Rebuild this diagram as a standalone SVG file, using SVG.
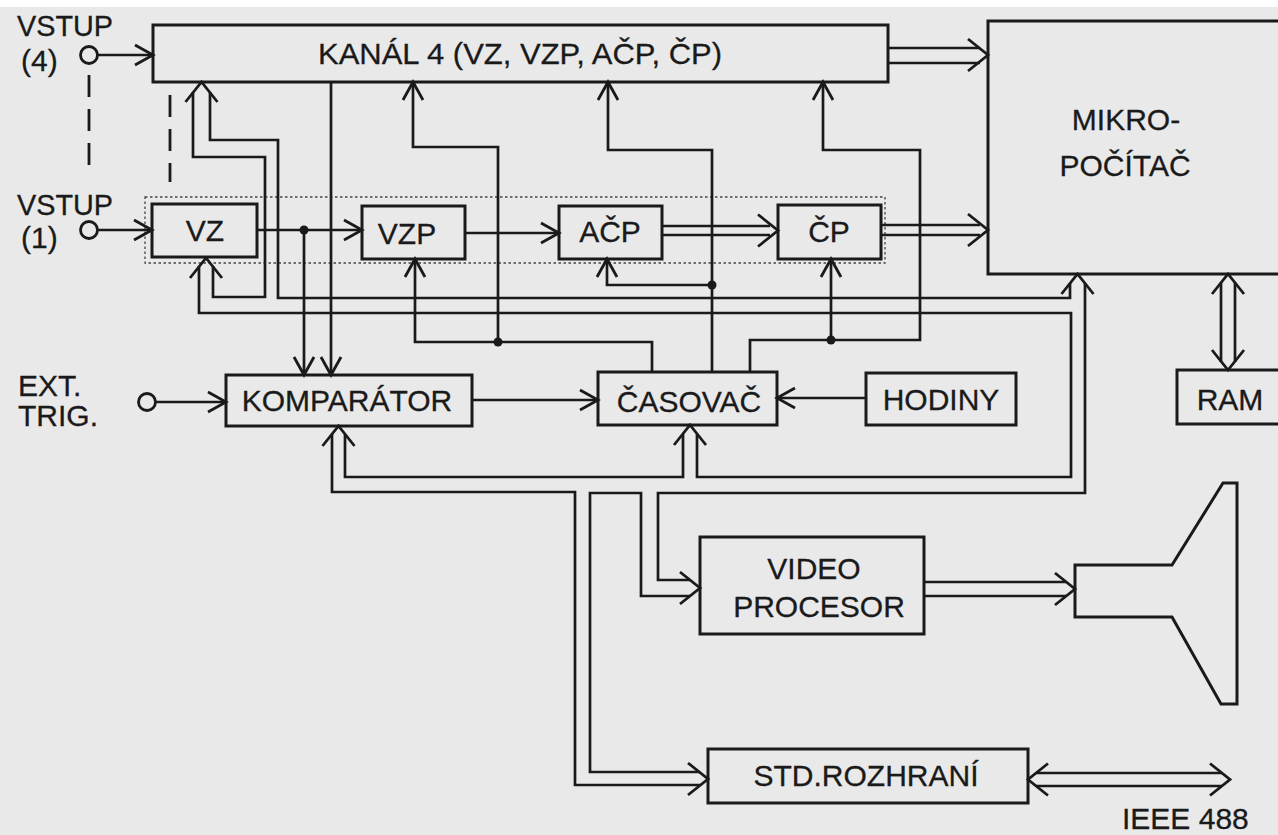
<svg xmlns="http://www.w3.org/2000/svg" xmlns:xlink="http://www.w3.org/1999/xlink" width="1278" height="835" viewBox="0 0 1278 835">
<style>
.bg{fill:#e9e9e9}
.box{fill:none;stroke:#1a1a1a;stroke-width:3}
.w{fill:none;stroke:#1a1a1a;stroke-width:2.7;stroke-linejoin:miter}
.t{font-family:"Liberation Sans",Arial,Helvetica,sans-serif;font-size:30px;fill:#1a1a1a;stroke:#1a1a1a;stroke-width:0.3}
.m{text-anchor:middle}
.dash{fill:none;stroke:#1a1a1a;stroke-width:2.8;stroke-dasharray:22 12}
.dot{fill:none;stroke:#444;stroke-width:1.3;stroke-dasharray:2.5 2.5}
.j{fill:#1a1a1a}
.term{fill:none;stroke:#1a1a1a;stroke-width:2.8}
</style>
<defs>
<marker id="a" markerUnits="userSpaceOnUse" viewBox="-22 -13 26 26" markerWidth="26" markerHeight="26" refX="0" refY="0" orient="auto" style="overflow:visible">
<path d="M-18,-10 L0,0 L-18,10" fill="none" stroke="#1a1a1a" stroke-width="2.8"/>
</marker>
<path id="ba" d="M-20,-16 L0,0 L-20,16" fill="none" stroke="#1a1a1a" stroke-width="2.8"/>
</defs>
<rect class="bg" x="0" y="0" width="1278" height="835"/>
<rect x="0" y="0" width="1278" height="7" fill="#ffffff"/>

<!-- input labels -->
<g id="in4">
<text class="t" x="17" y="36" textLength="96" lengthAdjust="spacingAndGlyphs">VSTUP</text>
<text class="t" x="21" y="71">(4)</text>
<circle class="term" cx="89" cy="55" r="8.5"/>
</g>
<g id="in1">
<text class="t" x="17" y="215" textLength="96" lengthAdjust="spacingAndGlyphs">VSTUP</text>
<text class="t" x="21" y="248">(1)</text>
<circle class="term" cx="89" cy="230" r="8.5"/>
</g>
<g id="exttrig">
<text class="t" x="18" y="396">EXT.</text>
<text class="t" x="18" y="426">TRIG.</text>
<circle class="term" cx="147" cy="402" r="8.5"/>
</g>

<!-- nodes -->
<g id="kanal4">
<rect class="box" x="153" y="25" width="735" height="57"/>
<text class="t" x="318" y="64" textLength="404" lengthAdjust="spacingAndGlyphs">KANÁL 4 (VZ, VZP, AČP, ČP)</text>
</g>
<g id="channel1">
<rect class="dot" x="145" y="197" width="740" height="66"/>
</g>
<g id="vz">
<rect class="box" x="152" y="204" width="105" height="53"/>
<text class="t m" x="205" y="241">VZ</text>
</g>
<g id="vzp">
<rect class="box" x="362" y="206" width="103" height="53"/>
<text class="t m" x="407" y="244">VZP</text>
</g>
<g id="acp">
<rect class="box" x="559" y="206" width="103" height="53"/>
<text class="t m" x="610" y="242">AČP</text>
</g>
<g id="cp">
<rect class="box" x="778" y="205" width="103" height="54"/>
<text class="t m" x="829" y="242">ČP</text>
</g>
<g id="mikro">
<rect class="box" x="988" y="21" width="310" height="253"/>
<text class="t m" x="1126" y="130">MIKRO-</text>
<text class="t m" x="1125" y="176">POČÍTAČ</text>
</g>
<g id="ram">
<rect class="box" x="1177" y="370" width="120" height="54"/>
<text class="t m" x="1230" y="410">RAM</text>
</g>
<g id="komparator">
<rect class="box" x="226" y="375" width="246" height="51"/>
<text class="t m" x="347" y="411">KOMPARÁTOR</text>
</g>
<g id="casovac">
<rect class="box" x="598" y="372" width="179" height="53"/>
<text class="t m" x="689" y="412">ČASOVAČ</text>
</g>
<g id="hodiny">
<rect class="box" x="866" y="373" width="150" height="52"/>
<text class="t m" x="941" y="410">HODINY</text>
</g>
<g id="video">
<rect class="box" x="700" y="537" width="224" height="97"/>
<text class="t m" x="814" y="579">VIDEO</text>
<text class="t m" x="819" y="617">PROCESOR</text>
</g>
<g id="crt">
<polygon class="box" points="1075,565 1172,565 1223,483 1237,483 1237,704 1221,704 1172,617 1075,617"/>
</g>
<g id="std">
<rect class="box" x="708" y="749" width="320" height="54"/>
<text class="t m" x="866" y="786">STD.ROZHRANÍ</text>
</g>
<g id="ieee">
<text class="t" x="1122" y="829">IEEE 488</text>
</g>

<!-- connectors -->
<g id="connectors">
<line class="dash" x1="89" y1="75" x2="89" y2="165"/>
<line class="dash" x1="170" y1="95" x2="170" y2="182"/>

<path class="w" d="M98,55 H153" marker-end="url(#a)"/>
<path class="w" d="M98,230 H152" marker-end="url(#a)"/>
<path class="w" d="M156,402 H226" marker-end="url(#a)"/>
<path class="w" d="M257,230 H362" marker-end="url(#a)"/>
<path class="w" d="M465,233 H559" marker-end="url(#a)"/>
<path class="w" d="M304,230 V375" marker-end="url(#a)"/>
<path class="w" d="M331,82 V375" marker-end="url(#a)"/>
<path class="w" d="M472,400 H598" marker-end="url(#a)"/>
<path class="w" d="M866,398 H777" marker-end="url(#a)"/>
<path class="w" d="M652,372 V342 H415 V259" marker-end="url(#a)"/>
<path class="w" d="M498,342 V147 H413 V82" marker-end="url(#a)"/>
<path class="w" d="M712,372 V150 H608 V82" marker-end="url(#a)"/>
<path class="w" d="M712,285 H607 V259" marker-end="url(#a)"/>
<path class="w" d="M750,372 V340 H920 V150 H823 V82" marker-end="url(#a)"/>
<path class="w" d="M831,340 V259" marker-end="url(#a)"/>
<circle class="j" cx="304" cy="230" r="4.5"/>
<circle class="j" cx="498" cy="342" r="4.5"/>
<circle class="j" cx="712" cy="285" r="4.5"/>
<circle class="j" cx="831" cy="340" r="4.5"/>

<!-- control bus from MIKROPOČÍTAČ -->
<path class="w" d="M1070,283 V298 H278 V140 H210 V92"/>
<path class="w" d="M193,92 V157 H265 V297 H213 V266"/>
<path class="w" d="M199,266 V313 H1071 V477 H697 V434"/>
<path class="w" d="M683,434 V477 H345 V434"/>
<path class="w" d="M332,434 V492 H575 V785 H700"/>
<path class="w" d="M700,772 H590 V493 H641 V596 H690"/>
<path class="w" d="M690,580 H658 V493 H1085 V283"/>
<use xlink:href="#ba" transform="translate(201.5,82) rotate(-90)"/>
<use xlink:href="#ba" transform="translate(206,258) rotate(-90)"/>
<use xlink:href="#ba" transform="translate(338.5,426) rotate(-90)"/>
<use xlink:href="#ba" transform="translate(690,425) rotate(-90)"/>
<use xlink:href="#ba" transform="translate(1077.5,274) rotate(-90)"/>
<use xlink:href="#ba" transform="translate(700,588)"/>
<use xlink:href="#ba" transform="translate(708,779)"/>

<!-- data buses -->
<path class="w" d="M888,48 H980 M888,63 H980"/>
<use xlink:href="#ba" transform="translate(988,55)"/>
<path class="w" d="M662,226 H770 M662,235 H770"/>
<use xlink:href="#ba" transform="translate(778,230.5)"/>
<path class="w" d="M881,225 H980 M881,235 H980"/>
<use xlink:href="#ba" transform="translate(988,230)"/>
<path class="w" d="M1221,282 V362 M1235,282 V362"/>
<use xlink:href="#ba" transform="translate(1228,274) rotate(-90)"/>
<use xlink:href="#ba" transform="translate(1228,370) rotate(90)"/>
<path class="w" d="M924,582 H1066 M924,596 H1066"/>
<use xlink:href="#ba" transform="translate(1075,589)"/>
<path class="w" d="M1036,773 H1222 M1036,786 H1222"/>
<use xlink:href="#ba" transform="translate(1028,779.5) rotate(180)"/>
<use xlink:href="#ba" transform="translate(1230,779.5)"/>
</g>
</svg>
